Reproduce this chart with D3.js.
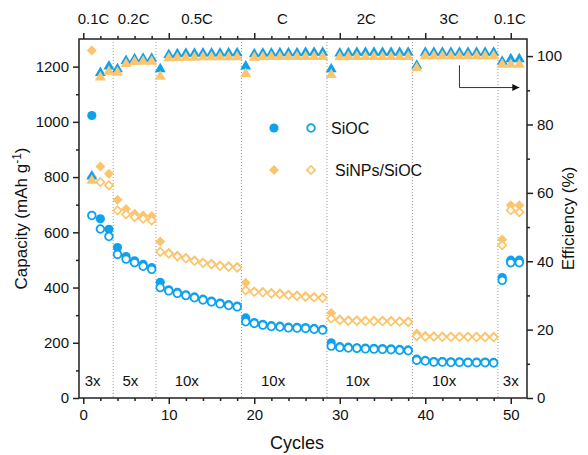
<!DOCTYPE html>
<html>
<head>
<meta charset="utf-8">
<script src="https://cdn.jsdelivr.net/npm/d3@7"></script>
<style>
  body { margin: 0; background: #fff; }
  svg { font-family: "Liberation Sans", Arial, sans-serif; }
</style>
</head>
<body>
<div id="chart"></div>
<script>
// cycles 1..51
const cycles = d3.range(1, 52);

// SiOC capacity (mAh/g): filled = discharge, open = charge
const siocDis = [1023,649,611,545,512,497,484,472,
  419,392,383,374,366,358,351,344,338,333,
  290,273,267,262,260,257,256,255,252,249,
  200,186,184,182,181,180,179,178,176,174,
  141,136,132,132,131,131,130,130,130,129,
  436,499,499];
const siocCh = [661,612,585,520,503,490,477,466,
  400,388,379,371,363,355,348,341,335,330,
  276,270,264,259,257,254,253,252,249,246,
  188,183,181,180,178,177,176,175,173,171,
  137,134,130,130,129,129,128,128,128,127,
  426,490,490];

// SiNPs/SiOC capacity
const siDis = [1258,838,812,718,684,667,661,659,
  567,526,516,508,499,492,487,481,478,475,
  417,387,385,381,379,375,372,369,367,365,
  308,285,282,282,281,281,281,280,279,278,
  234,225,224,224,224,223,223,223,223,223,
  574,698,698];
const siCh = [800,782,770,679,665,655,649,643,
  529,523,513,505,496,489,484,478,475,472,
  390,384,382,378,376,372,369,366,364,362,
  288,282,279,279,278,278,278,277,276,275,
  224,222,222,221,221,221,221,220,220,220,
  553,680,673];

// coulombic efficiency (%)
const siocEff = [64.8,95.1,97.0,96.2,98.6,99.1,99.3,99.3,
  96.2,100.4,100.6,100.7,100.7,100.8,100.8,100.8,100.9,100.9,
  97.0,100.6,100.8,100.8,100.9,100.9,100.9,101.0,101.0,101.0,
  96.2,100.8,100.9,101.0,101.0,101.0,101.0,101.0,101.0,101.0,
  97.2,101.0,101.0,101.0,101.0,101.0,101.0,101.0,101.0,101.0,
  98.4,99.1,99.1];
const siEff = [63.6,93.8,95.5,95.2,97.7,98.3,98.4,98.4,
  94.0,99.4,99.5,99.6,99.6,99.7,99.7,99.7,99.7,99.7,
  94.8,99.6,99.7,99.8,99.8,99.8,99.8,99.8,99.8,99.8,
  94.5,99.7,99.8,99.8,99.8,99.8,99.8,99.8,99.8,99.8,
  96.5,100.0,100.0,100.0,100.0,100.0,100.0,100.0,100.0,100.0,
  97.5,97.5,97.5];

// rate segments
const separators = [3.5, 8.5, 18.5, 28.5, 38.5, 48.5];
const rateLabels = ["0.1C", "0.2C", "0.5C", "C", "2C", "3C", "0.1C"];
const rateLabelAt = [1.2, 5.9, 13.3, 23.3, 33.1, 42.8, 49.9];
const repLabels = ["3x", "5x", "10x", "10x", "10x", "10x", "3x"];
const repLabelAt = [1.1, 5.5, 12.1, 22.2, 32.1, 42.2, 50.0];

const leftTicks = [0, 200, 400, 600, 800, 1000, 1200];
const rightTicks = [0, 20, 40, 60, 80, 100];
const xTicks = [0, 10, 20, 30, 40, 50];

const width = 588, height = 455;
const margin = { top: 39, right: 61, bottom: 57, left: 79 };
const blue = "#0DA2EE", orange = "#FCC46C", ink = "#222";

const svg = d3.select("#chart").append("svg").attr("width", width).attr("height", height);

const x = d3.scaleLinear().domain([-0.5, 51.9]).range([margin.left, width - margin.right]);
const yL = d3.scaleLinear().domain([0, 1300]).range([height - margin.bottom, margin.top]);
const yR = d3.scaleLinear().domain([0, 105]).range([height - margin.bottom, margin.top]);

const x0 = margin.left, x1 = width - margin.right, yb = height - margin.bottom, yt = margin.top;

// dotted separators
svg.append("g").selectAll("line").data(separators).join("line")
  .attr("x1", d => x(d)).attr("x2", d => x(d)).attr("y1", yt).attr("y2", yb)
  .attr("stroke", "#999").attr("stroke-width", 1).attr("stroke-dasharray", "1,2");

// axes
function styleAxis(g) {
  g.select(".domain").remove();
  g.selectAll("line").attr("stroke", ink).attr("stroke-width", 1.5);
  g.selectAll("text").attr("fill", "#111").style("font-size", "15px");
}
const minorX = d3.range(0, 52, 2).filter(d => d % 10);
svg.append("g").attr("transform", `translate(0,${yb})`)
  .call(d3.axisBottom(x).tickValues(xTicks).tickSize(6).tickPadding(5)).call(styleAxis);
svg.append("g").attr("transform", `translate(0,${yb})`)
  .call(d3.axisBottom(x).tickValues(minorX).tickSize(3).tickFormat("")).call(styleAxis);
svg.append("g").attr("transform", `translate(0,${yt})`)
  .call(d3.axisTop(x).tickValues(xTicks).tickSize(6).tickFormat("")).call(styleAxis);
svg.append("g").attr("transform", `translate(0,${yt})`)
  .call(d3.axisTop(x).tickValues(minorX).tickSize(3).tickFormat("")).call(styleAxis);

svg.append("g").attr("transform", `translate(${x0},0)`)
  .call(d3.axisLeft(yL).tickValues(leftTicks).tickSize(6).tickPadding(4).tickFormat(d3.format("d"))).call(styleAxis);
svg.append("g").attr("transform", `translate(${x0},0)`)
  .call(d3.axisLeft(yL).tickValues(d3.range(100, 1300, 200)).tickSize(3).tickFormat("")).call(styleAxis);
svg.append("g").attr("transform", `translate(${x1},0)`)
  .call(d3.axisRight(yR).tickValues(rightTicks).tickSize(6).tickPadding(4)).call(styleAxis);
svg.append("g").attr("transform", `translate(${x1},0)`)
  .call(d3.axisRight(yR).tickValues(d3.range(10, 105, 20)).tickSize(3).tickFormat("")).call(styleAxis);

// frame
svg.append("rect").attr("x", x0).attr("y", yt).attr("width", x1 - x0).attr("height", yb - yt)
  .attr("fill", "none").attr("stroke", ink).attr("stroke-width", 1.5);

// rate labels / repetition labels
svg.append("g").selectAll("text").data(rateLabels).join("text")
  .attr("x", (d, i) => x(rateLabelAt[i])).attr("y", 24).attr("text-anchor", "middle")
  .style("font-size", "15px").attr("fill", "#111").text(d => d);
svg.append("g").selectAll("text").data(repLabels).join("text")
  .attr("x", (d, i) => x(repLabelAt[i])).attr("y", 386).attr("text-anchor", "middle")
  .style("font-size", "15px").attr("fill", "#111").text(d => d);

// markers
const circ = d3.symbol().type(d3.symbolCircle);
const sq = d3.symbol().type(d3.symbolSquare);
const tri = d3.symbol().type(d3.symbolTriangle).size(52);

function points(vals, yScale, path, fill, stroke, sw, rot) {
  svg.append("g").selectAll("path").data(vals).join("path")
    .attr("transform", (d, i) => `translate(${x(cycles[i])},${yScale(d)})` + (rot ? ` rotate(${rot})` : ""))
    .attr("d", path).attr("fill", fill).attr("stroke", stroke).attr("stroke-width", sw);
}

points(siocDis, yL, circ.size(66)(), blue, "none", 0);
points(siocCh, yL, circ.size(46)(), "#fff", blue, 1.8);
points(siDis, yL, sq.size(50)(), orange, "none", 0, 45);
points(siCh, yL, sq.size(34)(), "#fff", orange, 1.7, 45);
points(siocEff, yR, tri(), blue, "none", 0);
points(siEff, yR, tri(), orange, "none", 0);

// legend
const leg = svg.append("g");
leg.append("path").attr("transform", "translate(274,128)").attr("d", circ.size(66)()).attr("fill", blue);
leg.append("path").attr("transform", "translate(311,128)").attr("d", circ.size(46)()).attr("fill", "#fff").attr("stroke", blue).attr("stroke-width", 1.8);
leg.append("text").attr("x", 331).attr("y", 134).style("font-size", "16px").attr("fill", "#111").text("SiOC");
leg.append("path").attr("transform", "translate(274,170) rotate(45)").attr("d", sq.size(50)()).attr("fill", orange);
leg.append("path").attr("transform", "translate(311,170) rotate(45)").attr("d", sq.size(34)()).attr("fill", "#fff").attr("stroke", orange).attr("stroke-width", 1.7);
leg.append("text").attr("x", 335).attr("y", 176).style("font-size", "16px").attr("fill", "#111").text("SiNPs/SiOC");

// arrow pointing to efficiency axis
svg.append("defs").append("marker").attr("id", "ah")
  .attr("viewBox", "0 0 10 10").attr("refX", 10).attr("refY", 5)
  .attr("markerWidth", 9).attr("markerHeight", 7).attr("markerUnits", "userSpaceOnUse").attr("orient", "auto")
  .append("path").attr("d", "M0,0L10,5L0,10Z").attr("fill", "#111");
svg.append("path")
  .attr("d", d3.line()([[x(44), yR(97.3)], [x(44), yR(90.8)], [x(51), yR(90.8)]]))
  .attr("fill", "none").attr("stroke", "#333").attr("stroke-width", 1).attr("marker-end", "url(#ah)");

// axis titles
const yt1 = svg.append("text").attr("transform", `translate(27,${(yt + yb) / 2}) rotate(-90)`)
  .attr("text-anchor", "middle").style("font-size", "17px").attr("fill", "#111");
yt1.append("tspan").text("Capacity (mAh g");
yt1.append("tspan").attr("dy", -6).style("font-size", "12px").text("-1");
yt1.append("tspan").attr("dy", 6).text(")");

svg.append("text").attr("transform", `translate(574,${(yt + yb) / 2}) rotate(-90)`)
  .attr("text-anchor", "middle").style("font-size", "17px").attr("fill", "#111").text("Efficiency (%)");
svg.append("text").attr("x", x(25)).attr("y", 449).attr("text-anchor", "middle")
  .style("font-size", "18px").attr("fill", "#111").text("Cycles");
</script>
</body>
</html>
